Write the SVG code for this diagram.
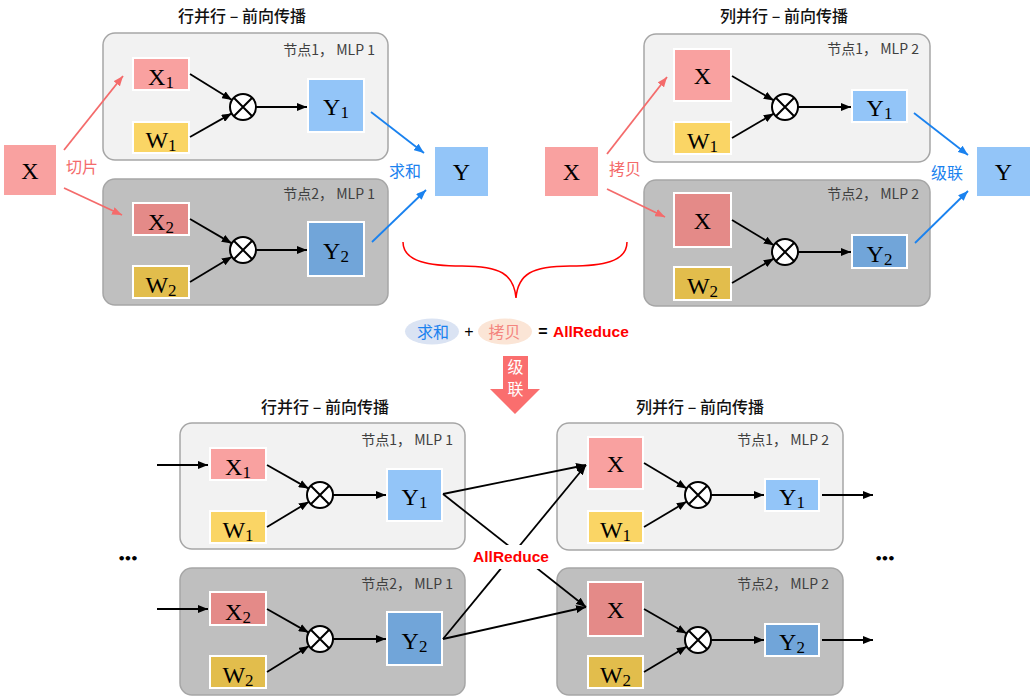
<svg xmlns="http://www.w3.org/2000/svg" width="1032" height="700" viewBox="0 0 1032 700">
<defs>
<style>
.pl{fill:#f2f2f2;stroke:#a6a6a6;stroke-width:1.5}
.pd{fill:#bfbfbf;stroke:#a6a6a6;stroke-width:1.5}
.bx{stroke:#fff;stroke-width:2}
.xa{fill:#f9a1a0}.xb{fill:#e48a88}.wa{fill:#fad565}.wb{fill:#e2bd4c}.ya{fill:#93c5f8}.yb{fill:#71a5d9}
.lt{font-family:"Liberation Serif","DejaVu Serif",serif;font-size:24px;text-anchor:middle;fill:#000}
.sb{font-size:17px}
.nl{font-family:"Noto Sans CJK SC","Liberation Sans",sans-serif;font-size:14px;fill:#404040;text-anchor:end}
.tt{font-family:"Noto Sans CJK SC","Liberation Sans",sans-serif;font-size:16px;font-weight:500;text-anchor:middle;fill:#111}
.op{fill:#fff;stroke:#000;stroke-width:2}
.opx{stroke:#000;stroke-width:2;fill:none}
.ck{stroke:#000;stroke-width:1.8;fill:none;marker-end:url(#ak)}
.cr{stroke:#f46b6b;stroke-width:1.8;fill:none;marker-end:url(#ar)}
.cb{stroke:#1a82ef;stroke-width:1.8;fill:none;marker-end:url(#ab)}
.cj{font-family:"Noto Sans CJK SC","Liberation Sans",sans-serif;font-size:16px;text-anchor:middle}
.red{fill:#f46b6b}.blue{fill:#1a82ef}
.ar{font-family:"Liberation Sans",Arial,sans-serif;font-weight:bold;font-size:15.5px;fill:#ff0000}
.dots{font-family:"DejaVu Sans",sans-serif;font-size:13px;font-weight:bold;fill:#000;text-anchor:middle;letter-spacing:-2px}
</style>
<marker id="ak" viewBox="0 0 10 8" refX="10" refY="4" markerWidth="10" markerHeight="8" markerUnits="userSpaceOnUse" orient="auto"><path d="M0,0 L10,4 L0,8 z" fill="#000"/></marker>
<marker id="ar" viewBox="0 0 10 8" refX="10" refY="4" markerWidth="10" markerHeight="8" markerUnits="userSpaceOnUse" orient="auto"><path d="M0,0 L10,4 L0,8 z" fill="#f46b6b"/></marker>
<marker id="ab" viewBox="0 0 10 8" refX="10" refY="4" markerWidth="10" markerHeight="8" markerUnits="userSpaceOnUse" orient="auto"><path d="M0,0 L10,4 L0,8 z" fill="#1a82ef"/></marker>
</defs>
<rect width="1032" height="700" fill="#fff"/>

<!-- Titles -->
<text class="tt" x="242" y="22">行并行 – 前向传播</text>
<text class="tt" x="784" y="22">列并行 – 前向传播</text>
<text class="tt" x="325" y="413">行并行 – 前向传播</text>
<text class="tt" x="700" y="413">列并行 – 前向传播</text>

<!-- Panels -->
<g id="panel-tl1"><rect class="pl" x="103" y="33" width="285" height="127" rx="12"/><text class="nl" x="375" y="55">节点1， MLP 1</text></g>
<g id="panel-tl2"><rect class="pd" x="103" y="179" width="285" height="126" rx="12"/><text class="nl" x="375" y="199">节点2， MLP 1</text></g>
<g id="panel-tr1"><rect class="pl" x="644" y="34" width="286" height="128" rx="12"/><text class="nl" x="919" y="54">节点1， MLP 2</text></g>
<g id="panel-tr2"><rect class="pd" x="644" y="180" width="286" height="126" rx="12"/><text class="nl" x="919" y="199">节点2， MLP 2</text></g>
<g id="panel-bl1"><rect class="pl" x="180" y="423" width="285" height="126" rx="12"/><text class="nl" x="453" y="445">节点1， MLP 1</text></g>
<g id="panel-bl2"><rect class="pd" x="180" y="568" width="285" height="127" rx="12"/><text class="nl" x="453" y="589">节点2， MLP 1</text></g>
<g id="panel-br1"><rect class="pl" x="557" y="423" width="286" height="127" rx="12"/><text class="nl" x="829" y="445">节点1， MLP 2</text></g>
<g id="panel-br2"><rect class="pd" x="557" y="568" width="286" height="127" rx="12"/><text class="nl" x="829" y="589">节点2， MLP 2</text></g>

<!-- Top-left nodes -->
<g id="tl-x"><rect class="bx xa" x="3" y="144" width="54" height="52"/><text class="lt" x="30" y="178.5">X</text></g>
<g id="tl-x1"><rect class="bx xa" x="133" y="58" width="56" height="32"/><text class="lt" x="161" y="85">X<tspan class="sb" dy="3">1</tspan></text></g>
<g id="tl-w1"><rect class="bx wa" x="133" y="122" width="56" height="31"/><text class="lt" x="161" y="148">W<tspan class="sb" dy="3">1</tspan></text></g>
<g id="tl-op1"><circle class="op" cx="243" cy="107" r="13"/><path class="opx" d="M233.8,97.8 L252.2,116.2 M252.2,97.8 L233.8,116.2"/></g>
<g id="tl-y1"><rect class="bx ya" x="308" y="79" width="56" height="53"/><text class="lt" x="336" y="115">Y<tspan class="sb" dy="3">1</tspan></text></g>
<g id="tl-x2"><rect class="bx xb" x="133" y="203" width="56" height="32"/><text class="lt" x="161" y="230">X<tspan class="sb" dy="3">2</tspan></text></g>
<g id="tl-w2"><rect class="bx wb" x="133" y="266" width="56" height="32"/><text class="lt" x="161" y="293">W<tspan class="sb" dy="3">2</tspan></text></g>
<g id="tl-op2"><circle class="op" cx="243" cy="250" r="13"/><path class="opx" d="M233.8,240.8 L252.2,259.2 M252.2,240.8 L233.8,259.2"/></g>
<g id="tl-y2"><rect class="bx yb" x="308" y="222" width="56" height="54"/><text class="lt" x="336" y="259">Y<tspan class="sb" dy="3">2</tspan></text></g>
<g id="tl-y"><rect class="bx ya" x="434" y="146" width="55" height="51"/><text class="lt" x="461.5" y="180">Y</text></g>

<!-- Top-right nodes -->
<g id="tr-x"><rect class="bx xa" x="544" y="146" width="55" height="51"/><text class="lt" x="571.5" y="180">X</text></g>
<g id="tr-x1"><rect class="bx xa" x="674" y="49" width="57" height="52"/><text class="lt" x="702.5" y="83.5">X</text></g>
<g id="tr-w1"><rect class="bx wa" x="674" y="122" width="57" height="32"/><text class="lt" x="702.5" y="149">W<tspan class="sb" dy="3">1</tspan></text></g>
<g id="tr-op1"><circle class="op" cx="785" cy="107" r="13"/><path class="opx" d="M775.8,97.8 L794.2,116.2 M794.2,97.8 L775.8,116.2"/></g>
<g id="tr-y1"><rect class="bx ya" x="852" y="90" width="55" height="32"/><text class="lt" x="879.5" y="116">Y<tspan class="sb" dy="3">1</tspan></text></g>
<g id="tr-x2"><rect class="bx xb" x="674" y="193" width="57" height="54"/><text class="lt" x="702.5" y="228.5">X</text></g>
<g id="tr-w2"><rect class="bx wb" x="674" y="267" width="57" height="33"/><text class="lt" x="702.5" y="294">W<tspan class="sb" dy="3">2</tspan></text></g>
<g id="tr-op2"><circle class="op" cx="785" cy="252" r="13"/><path class="opx" d="M775.8,242.8 L794.2,261.2 M794.2,242.8 L775.8,261.2"/></g>
<g id="tr-y2"><rect class="bx yb" x="852" y="235" width="55" height="33"/><text class="lt" x="879.5" y="261.5">Y<tspan class="sb" dy="3">2</tspan></text></g>
<g id="tr-y"><rect class="bx ya" x="976" y="146" width="55" height="51"/><text class="lt" x="1003.5" y="180">Y</text></g>

<!-- Bottom-left nodes -->
<g id="bl-x1"><rect class="bx xa" x="210" y="448" width="56" height="32"/><text class="lt" x="238" y="475">X<tspan class="sb" dy="3">1</tspan></text></g>
<g id="bl-w1"><rect class="bx wa" x="210" y="511" width="56" height="32"/><text class="lt" x="238" y="538">W<tspan class="sb" dy="3">1</tspan></text></g>
<g id="bl-op1"><circle class="op" cx="320" cy="495" r="13"/><path class="opx" d="M310.8,485.8 L329.2,504.2 M329.2,485.8 L310.8,504.2"/></g>
<g id="bl-y1"><rect class="bx ya" x="387" y="469" width="55" height="52"/><text class="lt" x="414.5" y="505">Y<tspan class="sb" dy="3">1</tspan></text></g>
<g id="bl-x2"><rect class="bx xb" x="210" y="592" width="56" height="33"/><text class="lt" x="238" y="619.5">X<tspan class="sb" dy="3">2</tspan></text></g>
<g id="bl-w2"><rect class="bx wb" x="210" y="656" width="56" height="32"/><text class="lt" x="238" y="683">W<tspan class="sb" dy="3">2</tspan></text></g>
<g id="bl-op2"><circle class="op" cx="320" cy="639" r="13"/><path class="opx" d="M310.8,629.8 L329.2,648.2 M329.2,629.8 L310.8,648.2"/></g>
<g id="bl-y2"><rect class="bx yb" x="387" y="612" width="55" height="53"/><text class="lt" x="414.5" y="648.5">Y<tspan class="sb" dy="3">2</tspan></text></g>

<!-- Bottom-right nodes -->
<g id="br-x1"><rect class="bx xa" x="588" y="437" width="55" height="52"/><text class="lt" x="615.5" y="471.5">X</text></g>
<g id="br-w1"><rect class="bx wa" x="588" y="511" width="55" height="32"/><text class="lt" x="615.5" y="538">W<tspan class="sb" dy="3">1</tspan></text></g>
<g id="br-op1"><circle class="op" cx="698" cy="495" r="13"/><path class="opx" d="M688.8,485.8 L707.2,504.2 M707.2,485.8 L688.8,504.2"/></g>
<g id="br-y1"><rect class="bx ya" x="765" y="479" width="54" height="32"/><text class="lt" x="792" y="505">Y<tspan class="sb" dy="3">1</tspan></text></g>
<g id="br-x2"><rect class="bx xb" x="588" y="582" width="55" height="54"/><text class="lt" x="615.5" y="617.5">X</text></g>
<g id="br-w2"><rect class="bx wb" x="588" y="656" width="55" height="32"/><text class="lt" x="615.5" y="683">W<tspan class="sb" dy="3">2</tspan></text></g>
<g id="br-op2"><circle class="op" cx="698" cy="640" r="13"/><path class="opx" d="M688.8,630.8 L707.2,649.2 M707.2,630.8 L688.8,649.2"/></g>
<g id="br-y2"><rect class="bx yb" x="765" y="624" width="54" height="32"/><text class="lt" x="792" y="650">Y<tspan class="sb" dy="3">2</tspan></text></g>

<!-- Connectors -->
<g id="connectors">
<line class="ck" x1="190" y1="74" x2="232" y2="100.1"/>
<line class="ck" x1="190" y1="137" x2="231.7" y2="113.4"/>
<line class="ck" x1="256" y1="107" x2="307" y2="107"/>
<line class="ck" x1="190" y1="219" x2="231.8" y2="243.4"/>
<line class="ck" x1="190" y1="282" x2="231.9" y2="256.7"/>
<line class="ck" x1="256" y1="250" x2="307" y2="250"/>
<line class="cr" x1="64" y1="150" x2="123" y2="76"/>
<line class="cr" x1="64" y1="188" x2="122" y2="215"/>
<line class="cb" x1="371" y1="112" x2="424" y2="153"/>
<line class="cb" x1="372" y1="242" x2="426" y2="190"/>

<line class="ck" x1="732" y1="76" x2="773.8" y2="100.4"/>
<line class="ck" x1="732" y1="138" x2="773.8" y2="113.6"/>
<line class="ck" x1="798" y1="107" x2="851" y2="107"/>
<line class="ck" x1="732" y1="220" x2="773.9" y2="245.3"/>
<line class="ck" x1="732" y1="283" x2="773.8" y2="258.6"/>
<line class="ck" x1="798" y1="252" x2="851" y2="252"/>
<line class="cr" x1="607" y1="154" x2="667" y2="77"/>
<line class="cr" x1="607" y1="189" x2="665" y2="217"/>
<line class="cb" x1="914" y1="113" x2="968" y2="155"/>
<line class="cb" x1="915" y1="243" x2="968" y2="191"/>

<line class="ck" x1="157" y1="465" x2="208" y2="465"/>
<line class="ck" x1="267" y1="465" x2="308.7" y2="488.6"/>
<line class="ck" x1="267" y1="527" x2="308.9" y2="501.7"/>
<line class="ck" x1="333" y1="495" x2="386" y2="495"/>
<line class="ck" x1="157" y1="609" x2="208" y2="609"/>
<line class="ck" x1="267" y1="609" x2="308.7" y2="632.6"/>
<line class="ck" x1="267" y1="672" x2="309" y2="645.9"/>
<line class="ck" x1="333" y1="639" x2="386" y2="639"/>

<line class="ck" x1="644" y1="463" x2="686.8" y2="488.4"/>
<line class="ck" x1="644" y1="527" x2="686.8" y2="501.6"/>
<line class="ck" x1="711" y1="495" x2="764" y2="495"/>
<line class="ck" x1="822" y1="495" x2="873" y2="495"/>
<line class="ck" x1="644" y1="609" x2="686.7" y2="633.5"/>
<line class="ck" x1="644" y1="672" x2="686.8" y2="646.6"/>
<line class="ck" x1="711" y1="640" x2="764" y2="640"/>
<line class="ck" x1="822" y1="640" x2="873" y2="640"/>

<line class="ck" x1="443" y1="494" x2="586" y2="465"/>
<line class="ck" x1="443" y1="494" x2="586" y2="607"/>
<line class="ck" x1="443" y1="639" x2="586" y2="465"/>
<line class="ck" x1="443" y1="639" x2="586" y2="607"/>

<path d="M403,242 C403,262 430,266 462,266 C500,266 514,274 516,298 C518,274 532,266 570,266 C602,266 627,262 627,242" fill="none" stroke="#ff0000" stroke-width="1.5"/>
</g>

<!-- Connector labels -->
<text class="cj red" x="82" y="173" font-size="15">切片</text>
<text class="cj blue" x="405" y="177">求和</text>
<text class="cj red" x="625" y="175">拷贝</text>
<text class="cj blue" x="947" y="179">级联</text>

<g id="allreduce-label">
<rect x="470" y="545" width="82" height="24" fill="#fff"/>
<text class="ar" x="511" y="562" text-anchor="middle">AllReduce</text>
</g>

<text class="dots" x="127" y="563">•••</text>
<text class="dots" x="884" y="563">•••</text>

<!-- Equation -->
<g id="equation">
<ellipse cx="432" cy="331.5" rx="27" ry="13" fill="#dae3f3"/>
<text class="cj blue" x="433" y="337.5">求和</text>
<text x="469" y="337" font-family="Liberation Sans,sans-serif" font-size="16" text-anchor="middle" fill="#000">+</text>
<ellipse cx="505" cy="331.5" rx="27" ry="13" fill="#fbe5d6"/>
<text class="cj" x="504.5" y="337.5" fill="#f4857f">拷贝</text>
<text x="543" y="337" font-family="Liberation Sans,sans-serif" font-size="16" font-weight="bold" text-anchor="middle" fill="#000">=</text>
<text class="ar" x="553" y="337">AllReduce</text>
</g>

<g id="cascade-arrow">
<polygon points="503,356 528,356 528,389 540,389 515,414 490,389 503,389" fill="#fa6e6e"/>
<text class="cj" x="515.5" y="372.5" fill="#fff" font-size="14.5"><tspan x="515.5">级</tspan><tspan x="515.5" dy="22">联</tspan></text>
</g>
</svg>
